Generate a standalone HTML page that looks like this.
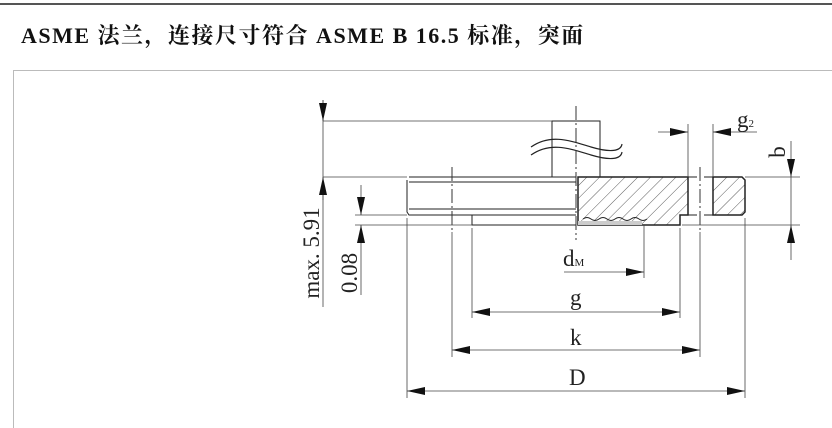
<!DOCTYPE html>
<html><head><meta charset="utf-8"><style>
body{margin:0;width:832px;height:428px;background:#fff;overflow:hidden;position:relative}
.t{position:absolute;left:21px;top:19px;font:bold 22px "Liberation Serif","Noto Serif CJK SC",serif;color:#111;letter-spacing:1.5px;white-space:nowrap}
</style></head><body>
<div class="t">ASME 法兰，连接尺寸符合 ASME B 16.5 标准，突面</div>
<svg width="832" height="428" style="position:absolute;left:0;top:0" font-family="Liberation Serif,serif">
<defs>
<pattern id="h" width="9" height="9" patternUnits="userSpaceOnUse" patternTransform="rotate(45)"><line x1="0" y1="0" x2="0" y2="9" stroke="#333" stroke-width="0.8"/></pattern>
<marker id="a" markerWidth="18" markerHeight="8" refX="18" refY="4" orient="auto" markerUnits="userSpaceOnUse"><path d="M0,0L18,4L0,8z" fill="#111"/></marker>
</defs>
<line x1="0" y1="4" x2="832" y2="4" stroke="#555" stroke-width="2"/>
<line x1="13" y1="70.5" x2="832" y2="70.5" stroke="#bbb"/>
<line x1="13.5" y1="70" x2="13.5" y2="428" stroke="#bbb"/>
<g stroke="#222" fill="none" stroke-width="1">
<path d="M552,177V121H600V177"/>
<path d="M531,147c20,-14 40,-6 60,0s30,4 31,-3" stroke-width="1.2"/>
<path d="M531,155c20,-14 40,-6 60,0s30,4 31,-3" stroke-width="1.2"/>
<path d="M409,177H576M407,180V212L409,215H576M409,182H576M409,209H576" />
<path d="M472,215V225H576"/>
<path d="M578,177H688V215H680V225H578Z" fill="url(#h)" stroke-width="1.5"/>
<path d="M583,219q4,-3 8,0t8,0t8,0t8,0t8,0t8,0t8,0t8,0" stroke-width="1"/>
<path d="M578,221H642V225H578Z" fill="#ccc" stroke="none"/>
<path d="M713,177H742L745,180V212L742,215H713Z" fill="url(#h)" stroke-width="1.5"/>
<path d="M688,177H697M704,177H713M688,215H697M704,215H713" />
<g stroke-dasharray="14,3,2,3" stroke="#333">
<line x1="576" y1="106" x2="576" y2="240"/>
<line x1="452" y1="167" x2="452" y2="232"/>
<line x1="700" y1="167" x2="700" y2="232"/>
</g>
</g>
<g stroke="#444" fill="none" stroke-width="0.8">
<line x1="323" y1="121" x2="552" y2="121"/>
<line x1="323" y1="177" x2="407" y2="177"/>
<line x1="355" y1="215" x2="407" y2="215"/>
<line x1="355" y1="225" x2="472" y2="225"/>
<line x1="745" y1="177" x2="800" y2="177"/>
<line x1="682" y1="225" x2="800" y2="225"/>
<line x1="407" y1="218" x2="407" y2="398"/>
<line x1="452" y1="232" x2="452" y2="357"/>
<line x1="472" y1="228" x2="472" y2="318"/>
<line x1="680" y1="228" x2="680" y2="318"/>
<line x1="644" y1="225" x2="644" y2="278"/>
<line x1="700" y1="232" x2="700" y2="357"/>
<line x1="745" y1="218" x2="745" y2="398"/>
<line x1="688" y1="124" x2="688" y2="177"/>
<line x1="713" y1="124" x2="713" y2="177"/>
<line x1="323" y1="100" x2="323" y2="307"/>
<line x1="323" y1="100" x2="323" y2="121" marker-end="url(#a)"/>
<line x1="323" y1="200" x2="323" y2="177" marker-end="url(#a)"/>
<line x1="361" y1="185" x2="361" y2="215" marker-end="url(#a)"/>
<line x1="361" y1="295" x2="361" y2="225" marker-end="url(#a)"/>
<line x1="791" y1="141" x2="791" y2="177" marker-end="url(#a)"/>
<line x1="791" y1="260" x2="791" y2="225" marker-end="url(#a)"/>
<line x1="791" y1="177" x2="791" y2="225"/>
<line x1="658" y1="132" x2="688" y2="132" marker-end="url(#a)"/>
<line x1="757" y1="132" x2="713" y2="132" marker-end="url(#a)"/>
<line x1="564" y1="272" x2="644" y2="272" marker-end="url(#a)"/>
<line x1="576" y1="312" x2="472" y2="312" marker-end="url(#a)"/>
<line x1="576" y1="312" x2="680" y2="312" marker-end="url(#a)"/>
<line x1="576" y1="350" x2="452" y2="350" marker-end="url(#a)"/>
<line x1="576" y1="350" x2="700" y2="350" marker-end="url(#a)"/>
<line x1="576" y1="391" x2="407" y2="391" marker-end="url(#a)"/>
<line x1="576" y1="391" x2="745" y2="391" marker-end="url(#a)"/>
</g>
<g fill="#222" font-size="23">
<text x="563" y="266">d<tspan font-size="11">M</tspan></text>
<text x="570" y="305">g</text>
<text x="570" y="345">k</text>
<text x="569" y="385">D</text>
<text x="737" y="127">g<tspan font-size="11">2</tspan></text>
<text transform="translate(319,253) rotate(-90)" text-anchor="middle">max. 5.91</text>
<text transform="translate(357,273) rotate(-90)" text-anchor="middle">0.08</text>
<text transform="translate(785,152) rotate(-90)" text-anchor="middle">b</text>
</g>
</svg>
</body></html>
